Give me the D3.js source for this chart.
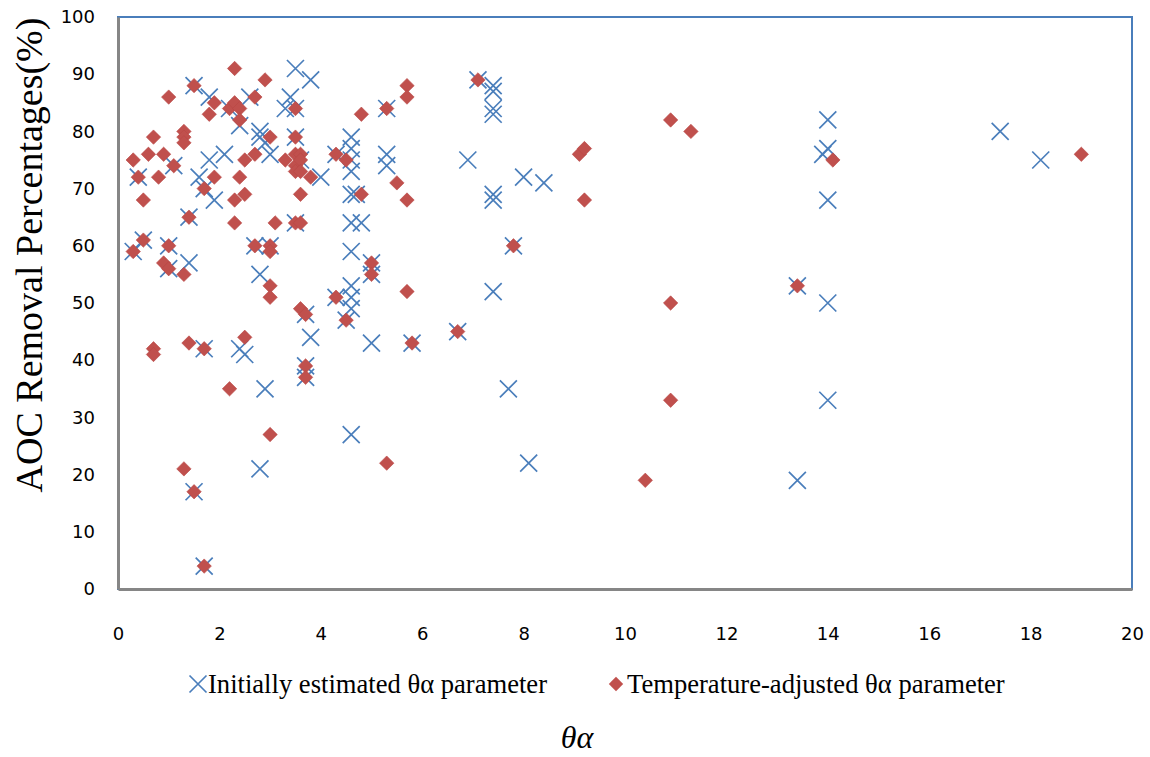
<!DOCTYPE html>
<html>
<head>
<meta charset="utf-8">
<script src="https://cdn.jsdelivr.net/npm/d3@7"></script>
<style>
  html, body { margin: 0; padding: 0; background: #fff; }
  svg { display: block; }
</style>
</head>
<body>
<svg id="chart" width="1150" height="757"></svg>
<script>
// ---- data ----
const xTicks = [0, 2, 4, 6, 8, 10, 12, 14, 16, 18, 20];
const yTicks = [0, 10, 20, 30, 40, 50, 60, 70, 80, 90, 100];
const seriesNames = ["Initially estimated \u03b8\u03b1 parameter", "Temperature-adjusted \u03b8\u03b1 parameter"];

// Initially estimated θα parameter  [θα, AOC removal %]
const initialPoints = [
  [0.3,59],[0.5,61],[0.4,72],[1.0,60],[1.0,56],[1.1,74],[1.4,57],[1.4,65],[1.5,88],[1.5,17],
  [1.6,72],[1.7,70],[1.7,42],[1.7,4],[1.8,75],[1.8,86],[1.9,68],[2.1,76],[2.2,84],[2.4,81],
  [2.4,42],[2.5,41],[2.6,86],[2.7,60],[2.8,80],[2.8,79],[2.8,55],[2.8,21],[2.9,78],[2.9,35],
  [3.0,76],[3.0,60],[3.3,84],[3.4,86],[3.5,91],[3.5,84],[3.5,79],[3.5,64],[3.6,75],[3.7,48],
  [3.7,39],[3.7,37],[3.8,89],[3.8,44],[4.0,72],[4.3,76],[4.3,51],[4.5,47],[4.6,79],[4.6,77],
  [4.6,75],[4.6,73],[4.6,69],[4.7,69],[4.6,64],[4.8,64],[4.6,59],[4.6,53],[4.6,51],[4.6,49],
  [4.6,27],[5.0,57],[5.0,55],[5.0,43],[5.3,84],[5.3,76],[5.3,74],[5.8,43],[6.7,45],[6.9,75],
  [7.1,89],[7.4,88],[7.4,87],[7.4,84],[7.4,83],[7.4,69],[7.4,68],[7.4,52],[7.7,35],[7.8,60],
  [8.0,72],[8.1,22],[8.4,71],[13.4,53],[13.4,19],[13.9,76],[14.0,77],[14.0,82],[14.0,68],[14.0,50],
  [14.0,33],[17.4,80],[18.2,75]
];

// Temperature-adjusted θα parameter  [θα, AOC removal %]
const adjustedPoints = [
  [0.3,75],[0.3,59],[0.4,72],[0.5,68],[0.5,61],[0.6,76],[0.7,79],[0.7,42],[0.7,41],[0.8,72],
  [0.9,76],[0.9,57],[1.0,86],[1.0,60],[1.0,56],[1.1,74],[1.3,80],[1.3,79],[1.3,78],[1.3,55],
  [1.3,21],[1.4,65],[1.4,43],[1.5,88],[1.5,17],[1.7,70],[1.7,42],[1.7,4],[1.8,83],[1.9,85],
  [1.9,72],[2.2,35],[2.2,84],[2.3,91],[2.3,85],[2.3,68],[2.3,64],[2.4,84],[2.4,82],[2.4,72],
  [2.5,75],[2.5,69],[2.5,44],[2.7,86],[2.7,76],[2.7,60],[2.9,89],[3.0,79],[3.0,60],[3.0,59],
  [3.0,53],[3.0,51],[3.0,27],[3.1,64],[3.3,75],[3.5,84],[3.5,79],[3.5,76],[3.5,74],[3.5,73],
  [3.5,64],[3.6,76],[3.6,75],[3.6,73],[3.6,69],[3.6,64],[3.6,49],[3.7,48],[3.7,39],[3.7,37],
  [3.8,72],[4.3,76],[4.3,51],[4.5,75],[4.5,47],[4.8,83],[4.8,69],[5.0,57],[5.0,55],[5.3,84],
  [5.3,22],[5.5,71],[5.7,88],[5.7,86],[5.7,68],[5.7,52],[5.8,43],[6.7,45],[7.1,89],[7.8,60],
  [9.1,76],[9.2,77],[9.2,68],[10.4,19],[10.9,82],[10.9,50],[10.9,33],[11.3,80],[13.4,53],[14.1,75],
  [19.0,76]
];

// ---- layout ----
const svg = d3.select("#chart");
const L = 118, R = 1132, T = 17, B = 589;
const x = d3.scaleLinear().domain([0, 20]).range([L, R]);
const y = d3.scaleLinear().domain([0, 100]).range([B, T]);

const blue = "#4A7EBB", red = "#C0504D", grey = "#868686";

// plot area border (top/right blue)
svg.append("rect").attr("x", L).attr("y", T).attr("width", R - L).attr("height", B - T)
  .attr("fill", "#fff").attr("stroke", blue).attr("stroke-width", 2);

// axes (grey, no ticks)
const xAxis = svg.append("g").attr("transform", `translate(0,${B})`)
  .call(d3.axisBottom(x).tickValues(xTicks).tickSize(0).tickFormat(d3.format("d")));
const yAxis = svg.append("g").attr("transform", `translate(${L},0)`)
  .call(d3.axisLeft(y).tickValues(yTicks).tickSize(0).tickPadding(23).tickFormat(d3.format("d")));
[xAxis, yAxis].forEach(g => {
  g.select(".domain").attr("stroke", grey).attr("stroke-width", 3);
  g.selectAll("text").attr("font-family", "'DejaVu Sans', Verdana, sans-serif")
    .attr("font-size", 18).attr("fill", "#000");
});
xAxis.selectAll("text").attr("dy", "0.35em").attr("y", 45);

// markers
const xHalf = 8.5, dHalf = 7.2;
const xPath = `M${-xHalf},${-xHalf}L${xHalf},${xHalf}M${-xHalf},${xHalf}L${xHalf},${-xHalf}`;
const dPath = `M0,${-dHalf}L${dHalf},0L0,${dHalf}L${-dHalf},0Z`;

svg.append("g").selectAll("path").data(initialPoints).join("path")
  .attr("d", xPath)
  .attr("transform", d => `translate(${x(d[0])},${y(d[1])})`)
  .attr("fill", "none").attr("stroke", blue).attr("stroke-width", 1.7);

svg.append("g").selectAll("path").data(adjustedPoints).join("path")
  .attr("d", dPath)
  .attr("transform", d => `translate(${x(d[0])},${y(d[1])})`)
  .attr("fill", red).attr("stroke", "#B84744").attr("stroke-width", 0.6);

// legend
const legend = svg.append("g");
legend.append("path").attr("d", xPath).attr("transform", "translate(198,684)")
  .attr("fill", "none").attr("stroke", blue).attr("stroke-width", 1.7);
legend.append("text").attr("x", 208).attr("y", 693).text(seriesNames[0]);
legend.append("path").attr("d", dPath).attr("transform", "translate(616,684)")
  .attr("fill", red);
legend.append("text").attr("x", 627).attr("y", 693).text(seriesNames[1]);
legend.selectAll("text").attr("font-family", "'Liberation Serif', 'Times New Roman', serif")
  .attr("font-size", 26.6).attr("fill", "#000");

// axis titles
svg.append("text").attr("x", 577).attr("y", 748).attr("text-anchor", "middle")
  .attr("font-family", "'Liberation Serif', 'Times New Roman', serif")
  .attr("font-style", "italic").attr("font-size", 32).text("\u03b8\u03b1");

svg.append("text").attr("transform", "translate(42,255) rotate(-90)").attr("text-anchor", "middle")
  .attr("font-family", "'Liberation Serif', 'Times New Roman', serif")
  .attr("font-size", 38).text("AOC Removal Percentages(%)");
</script>
</body>
</html>
